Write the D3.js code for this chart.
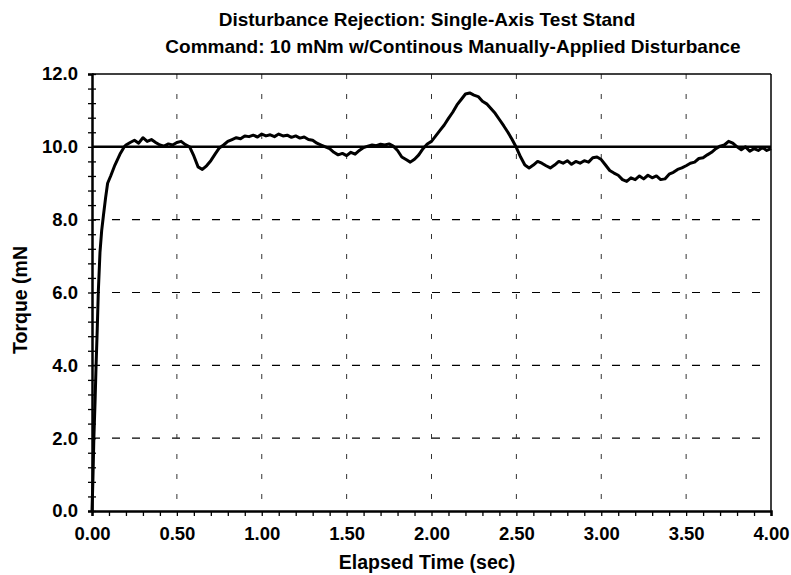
<!DOCTYPE html>
<html>
<head>
<meta charset="utf-8">
<script src="https://cdn.jsdelivr.net/npm/d3@7"></script>
<style>
  body { margin: 0; background: #fff; }
  svg { display: block; }
  text { font-family: "Liberation Sans", Arial, sans-serif; font-weight: bold; fill: #000; }
</style>
</head>
<body>
<svg id="chart" width="791" height="575"></svg>
<script>
const titleLines = ["Disturbance Rejection: Single-Axis Test Stand", "Command: 10 mNm w/Continous Manually-Applied Disturbance"];
const xTitle = "Elapsed Time (sec)";
const yTitle = "Torque (mN";
const xTicks = [0, 0.5, 1.0, 1.5, 2.0, 2.5, 3.0, 3.5, 4.0];
const yTicks = [0, 2, 4, 6, 8, 10, 12];
const commandLevel = 10;

const times = [0, 0.005, 0.011, 0.018, 0.024, 0.031, 0.037, 0.047, 0.057, 0.067, 0.08, 0.092, 0.11, 0.135, 0.15, 0.165, 0.18, 0.19, 0.2,
  0.225, 0.25, 0.275, 0.3, 0.325, 0.35, 0.375, 0.4, 0.425, 0.45, 0.475, 0.5, 0.525, 0.55, 0.575, 0.6, 0.625, 0.65, 0.675, 0.7, 0.725, 0.75, 0.775,
  0.8, 0.825, 0.85, 0.875, 0.9, 0.925, 0.95, 0.975, 1.0, 1.025, 1.05, 1.075, 1.1, 1.125, 1.15, 1.175, 1.2, 1.225, 1.25, 1.275,
  1.3, 1.325, 1.35, 1.375, 1.4, 1.425, 1.45, 1.475, 1.5, 1.525, 1.55, 1.575, 1.6, 1.625, 1.65, 1.675, 1.7, 1.725, 1.75, 1.775,
  1.8, 1.825, 1.85, 1.875, 1.9, 1.925, 1.95, 1.975, 2.0, 2.025, 2.05, 2.075, 2.1, 2.125, 2.15, 2.175, 2.2, 2.225, 2.25, 2.275,
  2.3, 2.325, 2.35, 2.375, 2.4, 2.425, 2.45, 2.475, 2.5, 2.525, 2.55, 2.575, 2.6, 2.625, 2.65, 2.675, 2.7, 2.725, 2.75, 2.775,
  2.8, 2.825, 2.85, 2.875, 2.9, 2.925, 2.95, 2.975, 3.0, 3.025, 3.05, 3.075, 3.1, 3.125, 3.15, 3.175, 3.2, 3.225, 3.25, 3.275,
  3.3, 3.325, 3.35, 3.375, 3.4, 3.425, 3.45, 3.475, 3.5, 3.525, 3.55, 3.575, 3.6, 3.625, 3.65, 3.675, 3.7, 3.725, 3.75, 3.775,
  3.8, 3.825, 3.85, 3.875, 3.9, 3.925, 3.95, 3.975, 4.0];
const torque = [0, 0.8, 2.0, 3.0, 4.0, 5.0, 6.0, 7.1, 7.7, 8.1, 8.6, 9.0, 9.2, 9.5, 9.65, 9.8, 9.92, 10.0, 10.05,
  10.12, 10.18, 10.1, 10.25, 10.15, 10.2, 10.12, 10.05, 10.02, 10.08, 10.05, 10.12, 10.15, 10.06, 10.0, 9.75, 9.45, 9.38, 9.48, 9.62, 9.8, 9.97, 10.05,
  10.15, 10.2, 10.25, 10.22, 10.3, 10.28, 10.32, 10.27, 10.35, 10.3, 10.33, 10.28, 10.35, 10.3, 10.32, 10.26, 10.3, 10.24, 10.27, 10.2,
  10.18, 10.1, 10.05, 10.0, 9.95, 9.85, 9.78, 9.82, 9.76, 9.85, 9.8, 9.9, 9.98, 10.02, 10.05, 10.03, 10.07, 10.05, 10.08, 10.02,
  9.9, 9.72, 9.65, 9.58, 9.66, 9.78, 9.95, 10.08, 10.15, 10.3, 10.45, 10.6, 10.78, 10.95, 11.15, 11.3, 11.45, 11.48, 11.42, 11.38,
  11.25, 11.18, 11.05, 10.92, 10.75, 10.58, 10.4, 10.2, 9.98, 9.72, 9.5, 9.42, 9.5, 9.6, 9.55, 9.48, 9.42, 9.5, 9.6, 9.55,
  9.62, 9.52, 9.6, 9.55, 9.62, 9.58, 9.7, 9.72, 9.65, 9.5, 9.35, 9.28, 9.22, 9.1, 9.05, 9.15, 9.1, 9.2, 9.12, 9.22,
  9.15, 9.2, 9.1, 9.12, 9.25, 9.3, 9.38, 9.42, 9.48, 9.55, 9.58, 9.68, 9.7, 9.78, 9.85, 9.95, 10.02, 10.05, 10.15, 10.1,
  10.0, 9.92, 10.0, 9.88, 9.95, 9.9, 9.98, 9.9, 9.95];

const data = times.map((t, i) => ({ t, v: torque[i] }));

const svg = d3.select("#chart");
const pLeft = 92, pRight = 771, pTop = 74, pBottom = 511;
const x = d3.scaleLinear().domain([0, 4]).range([pLeft, pRight]);
const y = d3.scaleLinear().domain([0, 12]).range([pBottom, pTop]);

// titles
svg.append("text").attr("x", 427).attr("y", 26).attr("text-anchor", "middle")
  .style("font-size", "19px").text(titleLines[0]);
svg.append("text").attr("x", 453).attr("y", 53).attr("text-anchor", "middle")
  .style("font-size", "19px").text(titleLines[1]);

// gridlines
const g = svg.append("g");
g.selectAll("line.hg").data(yTicks.filter(d => d > 0 && d < 12 && d !== commandLevel)).enter().append("line")
  .attr("x1", pLeft).attr("x2", pRight).attr("y1", d => y(d)).attr("y2", d => y(d))
  .attr("stroke", "#000").attr("stroke-width", 1.2).attr("stroke-dasharray", "8,12");
g.selectAll("line.vg").data(xTicks.filter(d => d > 0 && d < 4)).enter().append("line")
  .attr("x1", d => x(d)).attr("x2", d => x(d)).attr("y1", pTop).attr("y2", pBottom)
  .attr("stroke", "#333").attr("stroke-width", 1).attr("stroke-dasharray", "5,15");

// frame top/right
svg.append("line").attr("x1", pLeft).attr("x2", pRight).attr("y1", pTop).attr("y2", pTop).attr("stroke", "#000").attr("stroke-width", 1.5);
svg.append("line").attr("x1", pRight).attr("x2", pRight).attr("y1", pTop).attr("y2", pBottom).attr("stroke", "#000").attr("stroke-width", 1.5);

// command reference line
svg.append("line").attr("x1", pLeft).attr("x2", pRight).attr("y1", y(commandLevel)).attr("y2", y(commandLevel))
  .attr("stroke", "#000").attr("stroke-width", 2.5);

// x axis
const xAxis = d3.axisBottom(x).tickValues(d3.range(0, 4.001, 0.1)).tickSize(5)
  .tickFormat(d => (xTicks.some(v => Math.abs(v - d) < 1e-6) ? d3.format(".2f")(d) : ""));
const xa = svg.append("g").attr("transform", `translate(0,${pBottom})`).call(xAxis);
xa.select(".domain").attr("stroke-width", 2.5);
xa.selectAll(".tick line").attr("stroke-width", 1.3);
xa.selectAll(".tick text").attr("dy", null).attr("y", 29).style("font-size", "18.5px").style("font-family", "Liberation Sans, Arial, sans-serif").style("font-weight", "bold");

// y axis
const yAxis = d3.axisLeft(y).tickValues(d3.range(0, 12.001, 0.4)).tickSize(4)
  .tickFormat(d => (yTicks.some(v => Math.abs(v - d) < 1e-6) ? d3.format(".1f")(d) : ""));
const ya = svg.append("g").attr("transform", `translate(${pLeft},0)`).call(yAxis);
ya.select(".domain").attr("stroke-width", 2.5);
ya.selectAll(".tick line").attr("x1", 4).attr("stroke-width", 1.3);
ya.selectAll(".tick text").attr("x", -14).style("font-size", "18.5px").style("font-family", "Liberation Sans, Arial, sans-serif").style("font-weight", "bold");

// data line
const line = d3.line().x(d => x(d.t)).y(d => y(d.v)).curve(d3.curveLinear);
svg.append("path").datum(data).attr("d", line).attr("fill", "none").attr("stroke", "#000")
  .attr("stroke-width", 3).attr("stroke-linejoin", "round");

// axis titles
svg.append("text").attr("x", 427).attr("y", 569).attr("text-anchor", "middle").style("font-size", "19.5px").text(xTitle);
svg.append("text").attr("transform", "translate(27,300) rotate(-90)").attr("text-anchor", "middle").style("font-size", "19.5px").text(yTitle);
</script>
</body>
</html>
